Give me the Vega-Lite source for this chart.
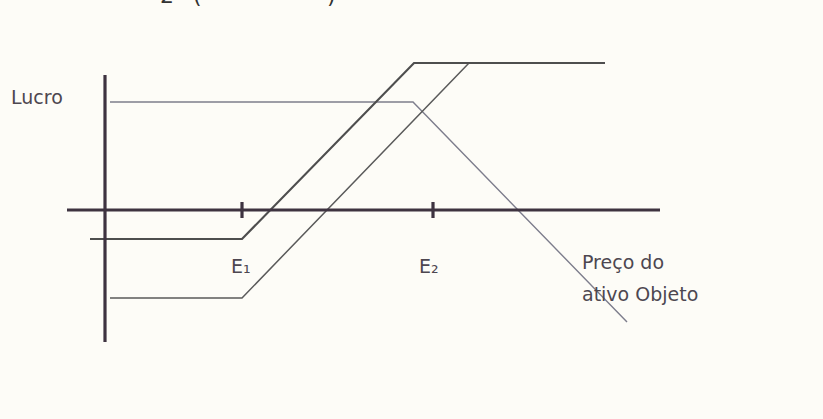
{
  "$schema": "https://vega.github.io/schema/vega-lite/v6.json",
  "width": 823,
  "height": 419,
  "autosize": {"type": "fit", "contains": "padding"},
  "padding": 0,
  "background": "#fdfcf7",
  "config": {"view": {"stroke": null}},
  "datasets": {
    "axes": [
      {"id": "h", "order": 0, "x": 67, "y": 0},
      {"id": "h", "order": 1, "x": 660, "y": 0},
      {"id": "v", "order": 0, "x": 105, "y": 135},
      {"id": "v", "order": 1, "x": 105, "y": -132},
      {"id": "t1", "order": 0, "x": 242, "y": 8},
      {"id": "t1", "order": 1, "x": 242, "y": -8},
      {"id": "t2", "order": 0, "x": 433, "y": 8},
      {"id": "t2", "order": 1, "x": 433, "y": -8}
    ],
    "lineA": [
      {"order": 0, "x": 90, "y": -29},
      {"order": 1, "x": 242, "y": -29},
      {"order": 2, "x": 414, "y": 147},
      {"order": 3, "x": 605, "y": 147}
    ],
    "lineB": [
      {"order": 0, "x": 110, "y": -88},
      {"order": 1, "x": 242, "y": -88},
      {"order": 2, "x": 469, "y": 147}
    ],
    "lineC": [
      {"order": 0, "x": 110, "y": 108},
      {"order": 1, "x": 413, "y": 108},
      {"order": 2, "x": 627, "y": -112}
    ],
    "labels": [
      {"x": 11, "y": 112, "text": "Lucro"},
      {"x": 231, "y": -57, "text": "E₁"},
      {"x": 419, "y": -57, "text": "E₂"},
      {"x": 582, "y": -53, "text": "Preço do"},
      {"x": 582, "y": -85, "text": "ativo Objeto"}
    ],
    "top": [
      {"x": 160, "y": 207, "text": "2"},
      {"x": 193, "y": 207, "text": "("},
      {"x": 327, "y": 207, "text": ")"}
    ]
  },
  "encoding": {
    "x": {"field": "x", "type": "quantitative", "scale": {"domain": [0, 823], "nice": false, "zero": false}, "axis": null},
    "y": {"field": "y", "type": "quantitative", "scale": {"domain": [-209, 210], "nice": false, "zero": false}, "axis": null}
  },
  "layer": [
    {
      "data": {"name": "lineC"},
      "mark": {"type": "line", "color": "#7d7d8c", "strokeWidth": 1.4},
      "encoding": {"order": {"field": "order", "type": "quantitative"}}
    },
    {
      "data": {"name": "lineB"},
      "mark": {"type": "line", "color": "#5a5a5a", "strokeWidth": 1.5},
      "encoding": {"order": {"field": "order", "type": "quantitative"}}
    },
    {
      "data": {"name": "lineA"},
      "mark": {"type": "line", "color": "#4e4e4e", "strokeWidth": 2.2},
      "encoding": {"order": {"field": "order", "type": "quantitative"}}
    },
    {
      "data": {"name": "axes"},
      "mark": {"type": "line", "color": "#3e3340", "strokeWidth": 3.2},
      "encoding": {
        "detail": {"field": "id", "type": "nominal"},
        "order": {"field": "order", "type": "quantitative"}
      }
    },
    {
      "data": {"name": "labels"},
      "mark": {"type": "text", "align": "left", "baseline": "middle", "font": "DejaVu Sans", "fontSize": 19, "color": "#4d4750"},
      "encoding": {"text": {"field": "text"}}
    },
    {
      "data": {"name": "top"},
      "mark": {"type": "text", "align": "left", "baseline": "alphabetic", "font": "DejaVu Sans", "fontSize": 22, "color": "#333333", "clip": true},
      "encoding": {"text": {"field": "text"}}
    }
  ]
}
